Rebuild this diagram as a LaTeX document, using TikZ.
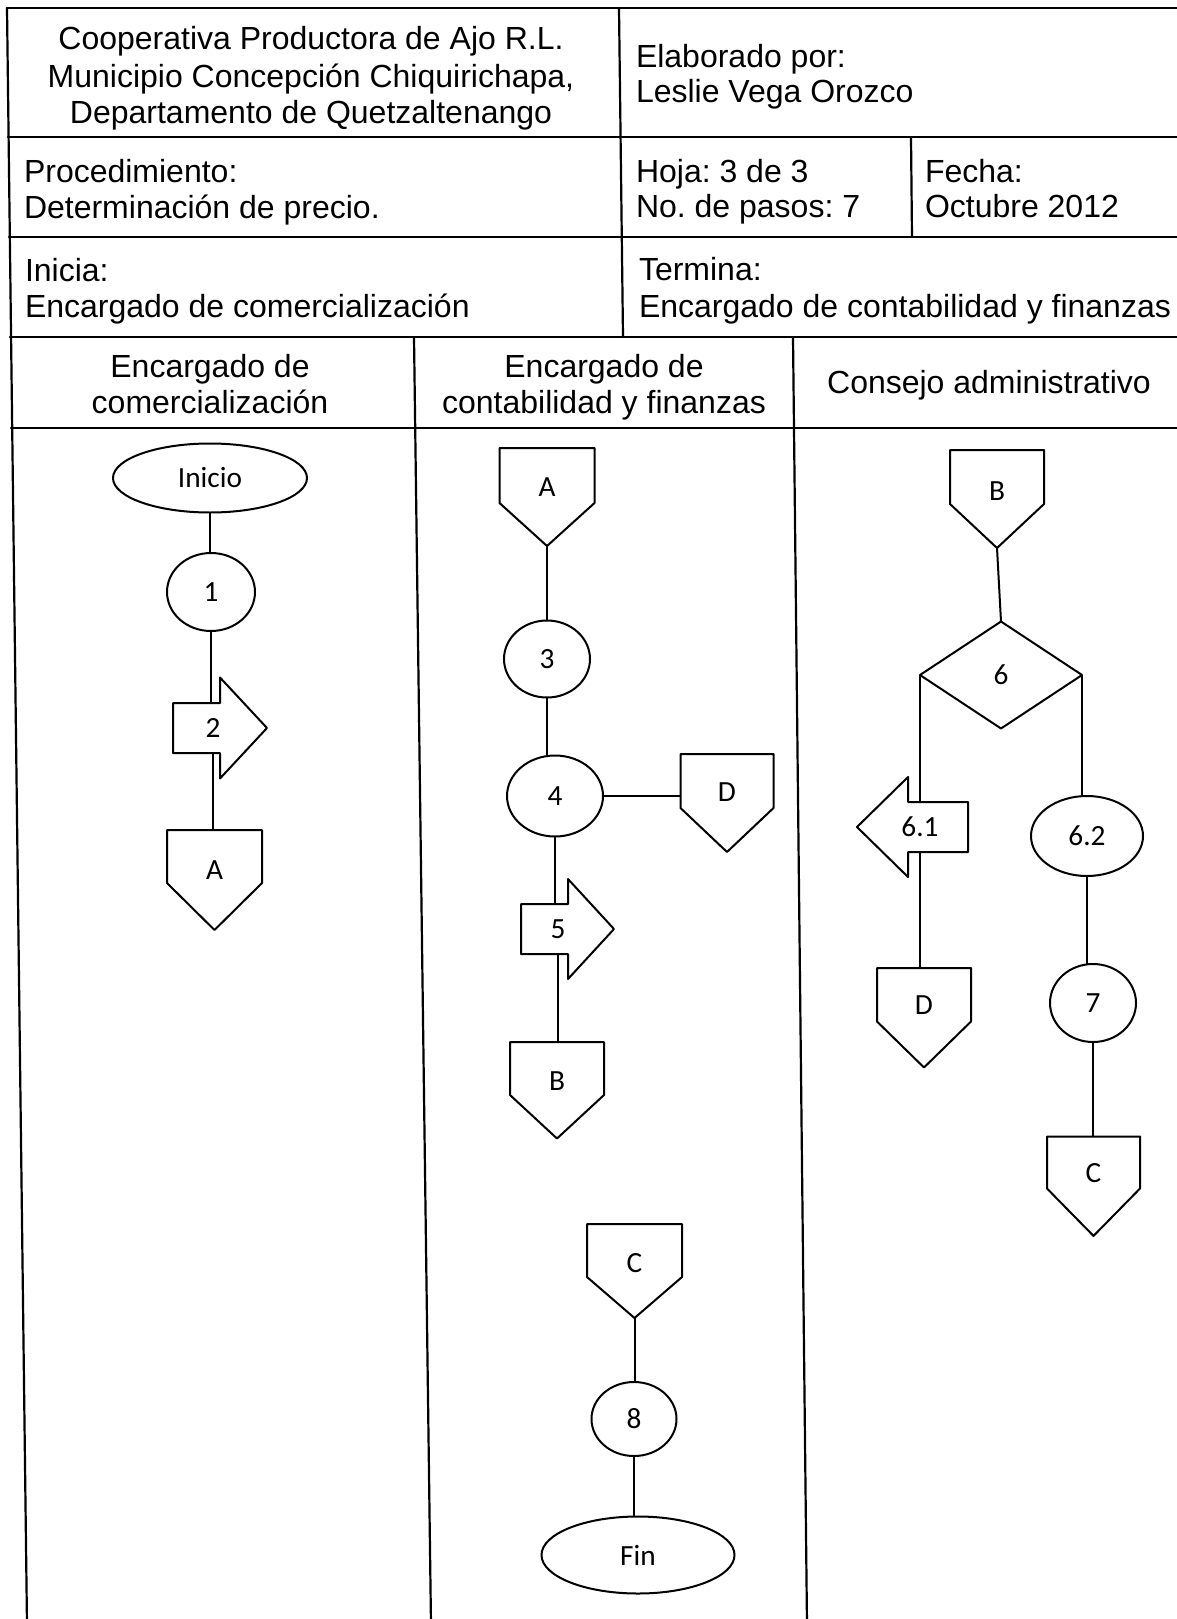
\documentclass[tikz,border=0pt]{standalone}
\usepackage{fontspec}
\setmainfont{Liberation Sans}
\newfontfamily\flowfont{Carlito}
\usetikzlibrary{shapes.geometric}

% outline of an off-page connector: flat top, straight sides of height #2, pointed bottom
\newcommand\offpageoutline[2]{%
  \draw[shapeline] (#1.north west) -- (#1.north east) -- ([yshift=-#2pt]#1.north east)
    -- (#1.south) -- ([yshift=-#2pt]#1.north west) -- cycle;}
% outline of a block arrow around node #1:
% #2 tail end, #3 head base, #4 tip (x offsets), #5 half body height, #6 half head height
\newcommand\blockarrowoutline[6]{%
  \draw[shapeline] ([xshift=#2pt,yshift=#5pt]#1.center) -- ([xshift=#3pt,yshift=#5pt]#1.center)
    -- ([xshift=#3pt,yshift=#6pt]#1.center) -- ([xshift=#4pt]#1.center)
    -- ([xshift=#3pt,yshift=-#6pt]#1.center) -- ([xshift=#3pt,yshift=-#5pt]#1.center)
    -- ([xshift=#2pt,yshift=-#5pt]#1.center) -- cycle;}

\begin{document}
\begin{tikzpicture}[x=1pt, y=-1pt,
  grid line/.style={line width=2.2pt, line cap=round},
  head text/.style={inner sep=0pt, outer sep=0pt, font=\fontsize{32}{36.8}\selectfont\frenchspacing},
  shapeline/.style={line width=2pt, line join=round},
  flow/.style={font={\flowfont\fontsize{29.3}{35}\selectfont}, inner sep=0pt, outer sep=0pt},
  oval/.style={flow, draw, shapeline, ellipse},
  decision/.style={flow, draw, shapeline, diamond},
  offpage/.style n args={3}{flow, minimum width=#1, text height=#2, text depth=#3},
  blockarrow/.style={flow, minimum height=#1},
  link/.style={line width=2pt}
]
\useasboundingbox (0,0) rectangle (1176,1619);
\fill[white] (0,0) rectangle (1176,1619);

% ---------- form frame ----------
\draw[grid line] (7,8) -- (1180,8);
\draw[grid line] (8,137) -- (1180,137);
\draw[grid line] (9,237) -- (1180,237);
\draw[grid line] (10,337) -- (1180,337);
\draw[grid line] (11,428) -- (1180,428);
\draw[grid line] (7,8) -- (27,1625);
\draw[grid line] (619,8) -- (623,337);
\draw[grid line] (911,137) -- (912,237);
\draw[grid line] (414,337) -- (431,1625);
\draw[grid line] (793,337) -- (807,1625);

% ---------- header texts ----------
\node[head text, anchor=base] (h1a) at (311,50) {Cooperativa Productora de Ajo R.L.};
\node[head text, anchor=base] (h1b) at (311,87) {Municipio Concepción Chiquirichapa,};
\node[head text, anchor=base] (h1c) at (311,123) {Departamento de Quetzaltenango};
\node[head text, anchor=base west] (h2a) at (636,67) {Elaborado por:};
\node[head text, anchor=base west] (h2b) at (636,102) {Leslie Vega Orozco};
\node[head text, anchor=base west] (h3a) at (24,182) {Procedimiento:};
\node[head text, anchor=base west] (h3b) at (24,218) {Determinación de precio.};
\node[head text, anchor=base west] (h4a) at (636,182) {Hoja: 3 de 3};
\node[head text, anchor=base west] (h4b) at (636,217) {No. de pasos: 7};
\node[head text, anchor=base west] (h5a) at (925,182) {Fecha:};
\node[head text, anchor=base west] (h5b) at (925,217) {Octubre 2012};
\node[head text, anchor=base west] (h6a) at (25,281) {Inicia:};
\node[head text, anchor=base west] (h6b) at (25,317) {Encargado de comercialización};
\node[head text, anchor=base west] (h7a) at (639,280) {Termina:};
\node[head text, anchor=base west] (h7b) at (639,317) {Encargado de contabilidad y finanzas};
\node[head text, anchor=base] (l1a) at (210,377) {Encargado de};
\node[head text, anchor=base] (l1b) at (210,413) {comercialización};
\node[head text, anchor=base] (l2a) at (604,377) {Encargado de};
\node[head text, anchor=base] (l2b) at (604,413) {contabilidad y finanzas};
\node[head text, anchor=base] (l3) at (989,393) {Consejo administrativo};

% ---------- lane 1: Encargado de comercialización ----------
\node[oval, minimum width=194, minimum height=69] (ini) at (210,478) {Inicio};
\node[oval, minimum width=88, minimum height=78] (c1) at (211,592) {1};
\node[blockarrow=50] (ar2) at (213,728) {2};
\node[offpage={95}{49.4pt}{50.6pt}, anchor=north] (A1) at (214.5,830) {A};

% ---------- lane 2: Encargado de contabilidad y finanzas ----------
\node[offpage={95}{48pt}{50pt}, anchor=north] (A2) at (547,448) {A};
\node[oval, minimum width=86, minimum height=77] (c3) at (547,659) {3};
\node[oval, minimum width=96, minimum height=81] (c4) at (555,796) {4};
\node[offpage={93}{47.4pt}{50.6pt}, anchor=north] (D2) at (727,754) {D};
\node[blockarrow=50] (ar5) at (558,929) {5};
\node[offpage={94}{48.4pt}{48.1pt}, anchor=north] (B2) at (557,1042) {B};
\node[offpage={95}{48.4pt}{45.6pt}, anchor=north] (C2) at (634.5,1224) {C};
\node[oval, minimum width=85, minimum height=74] (c8) at (634,1419) {8};
\node[oval, minimum width=193, minimum height=77] (fin) at (638,1555) {Fin};

% ---------- lane 3: Consejo administrativo ----------
\node[offpage={94}{50pt}{48pt}, anchor=north] (B3) at (997,450) {B};
\node[decision, minimum width=162, minimum height=107] (dia) at (1001,675) {6};
\node[blockarrow=50] (a61) at (920,827) {6.1};
\node[offpage={94}{46pt}{53.5pt}, anchor=north] (D3) at (924,968) {D};
\node[oval, minimum width=112, minimum height=80] (e62) at (1087,836) {6.2};
\node[oval, minimum width=86, minimum height=78] (c7) at (1093,1003) {7};
\node[offpage={93}{46pt}{53.4pt}, anchor=north] (C3) at (1093.5,1136.5) {C};

% ---------- symbol outlines ----------
\foreach \n/\r in {A1/53, A2/55, D2/54, B2/53, C2/53, B3/54, D3/53.5, C3/52}{%
  \offpageoutline{\n}{\r}}
\blockarrowoutline{ar2}{-40}{7}{54}{25}{50.5}
\blockarrowoutline{ar5}{-37}{10}{56}{25}{50}
\blockarrowoutline{a61}{48}{-12}{-63}{25}{50}

% ---------- connectors ----------
\draw[link] (ini.south) -- (ini.south |- c1.north);
\draw[link] (c1.south) -- (c1.south |- ar2.north);
\draw[link] (ar2.south) -- (ar2.south |- A1.north);
\draw[link] (A2.south) -- (A2.south |- c3.north);
\draw[link] (c3.south) -- (c3.south |- c4.north);
\draw[link] (c4.east) -- (c4.east -| D2.west);
\draw[link] (c4.south) -- (c4.south |- ar5.north);
\draw[link] (ar5.south) -- (ar5.south |- B2.north);
\draw[link] (C2.south) -- (C2.south |- c8.north);
\draw[link] (c8.south) -- (c8.south |- fin.north);
\draw[link] (B3.south) -- (dia.north);
\draw[link] (dia.west) -- (dia.west |- a61.north);
\draw[link] (a61.south) -- (a61.south |- D3.north);
\draw[link] (dia.east) -- (dia.east |- e62.north);
\draw[link] (e62.south) -- (e62.south |- c7.north);
\draw[link] (c7.south) -- (c7.south |- C3.north);
\end{tikzpicture}
\end{document}
